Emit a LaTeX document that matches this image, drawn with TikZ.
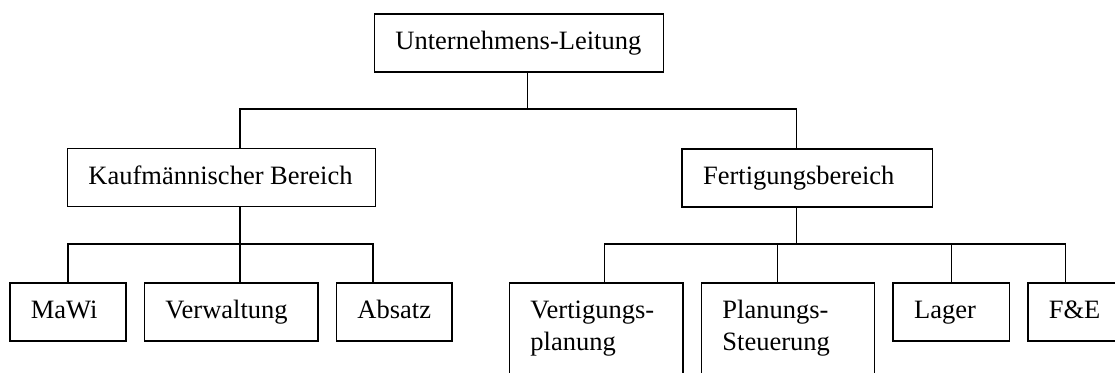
\documentclass[tikz,border=0pt]{standalone}
\usepackage{fontspec}
\setmainfont{Liberation Serif}
\newcommand\boxone[3]{\vbox to #2{\baselineskip=31.5pt\kern35.8pt\hbox to #1{\kern21pt\smash{#3}\hss}\vss}}
\newcommand\boxtwo[4]{\vbox to #2{\baselineskip=31.5pt\kern35.8pt\hbox to #1{\kern21pt\smash{#3}\hss}\hbox to #1{\kern21pt\smash{#4}\hss}\vss}}
\begin{document}
\begin{tikzpicture}[x=1pt,y=-1pt,
  orgbox/.style={draw, line width=1.5pt, inner sep=0pt, anchor=north west,
    font=\fontsize{26.5pt}{31.5pt}\selectfont},
  conn/.style={line width=1.5pt}]
\useasboundingbox (0,0) rectangle (1115,372);
\clip (0,0) rectangle (1115,372);
% boxes
\node[orgbox] (top) at (373.7,13.3) {\boxone{289pt}{57.7pt}{Unternehmens-Leitung}};
\node[orgbox] (kauf) at (66.7,147.7) {\boxone{308pt}{58pt}{Kaufmännischer Bereich}};
\node[orgbox] (fert) at (681.3,148) {\boxone{250.4pt}{58pt}{Fertigungsbereich}};
\node[orgbox] (mawi) at (9,282.3) {\boxone{116pt}{57.7pt}{MaWi}};
\node[orgbox] (verw) at (143.7,282.3) {\boxone{173.3pt}{57.7pt}{Verwaltung}};
\node[orgbox] (absatz) at (335.7,282.3) {\boxone{115.6pt}{57.7pt}{Absatz}};
\node[orgbox] (vert) at (508.7,282.3) {\boxtwo{173.3pt}{130pt}{Vertigungs-}{planung}};
\node[orgbox] (plan) at (700.7,282.3) {\boxtwo{173pt}{130pt}{Planungs-}{Steuerung}};
\node[orgbox] (lager) at (892.3,282.3) {\boxone{116.4pt}{57.7pt}{Lager}};
\node[orgbox] (fe) at (1027,282.3) {\boxone{120pt}{57.7pt}{F\&E}};
% junction coordinates
\coordinate (b1) at (527.7,109);
\coordinate (k) at (240,109);
\coordinate (f) at (796.7,109);
\coordinate (k2) at (240,244);
\coordinate (a) at (373,244);
\coordinate (f2) at (796.7,244);
\coordinate (v) at (604.3,244);
\coordinate (p) at (777.3,244);
\coordinate (e) at (1065.7,244);
% connectors
\draw[conn] (top.south -| b1) -- (b1);
\draw[conn] (kauf.north -| k) |- (b1) -| (fert.north -| f);
\draw[conn] (kauf.south -| k2) -- (k2);
\draw[conn] (mawi.north) |- (k2) -| (absatz.north -| a);
\draw[conn] (verw.north -| k2) -- (k2);
\draw[conn] (fert.south -| f2) -- (f2);
\draw[conn] (vert.north -| v) |- (f2) -| (fe.north -| e);
\draw[conn] (plan.north -| p) -- (p);
\draw[conn] (lager.north) -- (lager.north |- f2);
\end{tikzpicture}
\end{document}
